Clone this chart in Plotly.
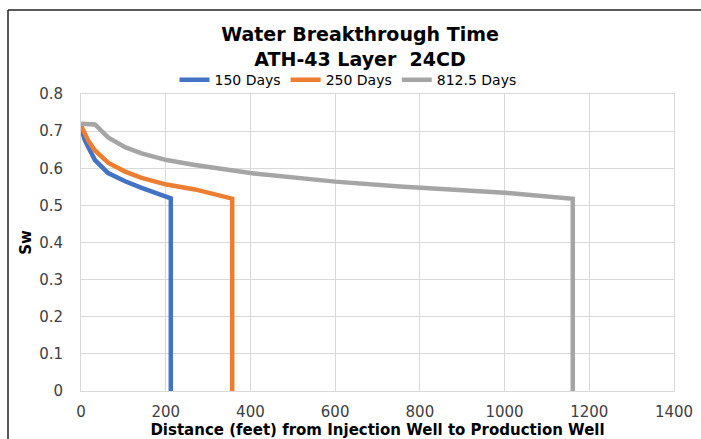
import plotly.graph_objects as go

# Series: 150 Days
x_150 = [0, 8, 17, 33, 64, 104, 143, 183, 212, 212]
sw_150 = [0.712, 0.678, 0.657, 0.622, 0.587, 0.565, 0.547, 0.529, 0.519, 0.0]

# Series: 250 Days
x_250 = [0, 8, 17, 33, 64, 104, 143, 202, 269, 357, 357]
sw_250 = [0.715, 0.695, 0.675, 0.648, 0.615, 0.591, 0.574, 0.556, 0.543, 0.518, 0.0]

# Series: 812.5 Days
x_812 = [0, 33, 64, 104, 143, 202, 269, 400, 600, 753, 1000, 1161, 1161]
sw_812 = [0.72, 0.718, 0.683, 0.657, 0.640, 0.622, 0.609, 0.587, 0.564, 0.551, 0.534, 0.518, 0.0]

series_names = ["150 Days", "250 Days", "812.5 Days"]
colors = ["#4472C4", "#ED7D31", "#A5A5A5"]

x_ticks = [0, 200, 400, 600, 800, 1000, 1200, 1400]
y_ticks = [0, 0.1, 0.2, 0.3, 0.4, 0.5, 0.6, 0.7, 0.8]
y_tick_labels = ["0", "0.1", "0.2", "0.3", "0.4", "0.5", "0.6", "0.7", "0.8"]

FONT = "DejaVu Sans, Arial, sans-serif"

fig = go.Figure()
for xs, ys, name, col in zip([x_150, x_250, x_812], [sw_150, sw_250, sw_812], series_names, colors):
    fig.add_trace(go.Scatter(x=xs, y=ys, mode="lines", name=name,
                             line=dict(color=col, width=4.5)))

fig.update_layout(
    width=701, height=439,
    margin=dict(l=81, r=27, t=94, b=48, autoexpand=False),
    paper_bgcolor="white", plot_bgcolor="white",
    font=dict(family=FONT, color="#404040"),
    title=dict(text="<b>Water Breakthrough Time<br>ATH-43 Layer  24CD</b>",
               x=(360 - 81) / 593, xanchor="center", xref="paper",
               y=1 - 41 / 439, yanchor="top", yref="container",
               font=dict(size=19, color="#000000", family=FONT)),
    legend=dict(orientation="h", x=(348 - 81) / 593, xanchor="center", y=1.047, yanchor="middle",
                font=dict(size=14, color="#000000", family=FONT),
                itemwidth=30, tracegroupgap=0, bgcolor="rgba(0,0,0,0)"),
    showlegend=True,
    xaxis=dict(range=[0, 1400], tickvals=x_ticks, ticktext=[str(v) for v in x_ticks],
               showgrid=True, gridcolor="#D9D9D9", gridwidth=1,
               showline=True, linecolor="#D9D9D9", linewidth=1, mirror=True,
               zeroline=False, ticks="", ticklabelstandoff=7, automargin=False,
               tickfont=dict(size=15, color="#404040", family=FONT),
               title=dict(text="<b>Distance (feet) from Injection Well to Production Well</b>",
                          font=dict(size=15, color="#000000", family=FONT), standoff=0)),
    yaxis=dict(range=[0, 0.8], tickvals=y_ticks, ticktext=y_tick_labels,
               showgrid=True, gridcolor="#D9D9D9", gridwidth=1,
               showline=True, linecolor="#D9D9D9", linewidth=1, mirror=True,
               zeroline=False, ticks="", ticklabelstandoff=14, automargin=False,
               tickfont=dict(size=15, color="#404040", family=FONT),
               title=dict(text="<b>Sw</b>", font=dict(size=15, color="#000000", family=FONT), standoff=3)),
)

# outer chart frame (top and left edges visible in the crop)
fig.add_shape(type="line", xref="paper", yref="paper",
              x0=(8 - 81) / 593, x1=(701 - 81) / 593, y0=(391 - 10) / 297, y1=(391 - 10) / 297,
              line=dict(color="#222222", width=1.5))
fig.add_shape(type="line", xref="paper", yref="paper",
              x0=(8 - 81) / 593, x1=(8 - 81) / 593, y0=(391 - 10) / 297, y1=(391 - 445) / 297,
              line=dict(color="#222222", width=1.5))

fig.write_html("out.html", config={"displayModeBar": False},
               post_script="document.body.style.margin='0';")
